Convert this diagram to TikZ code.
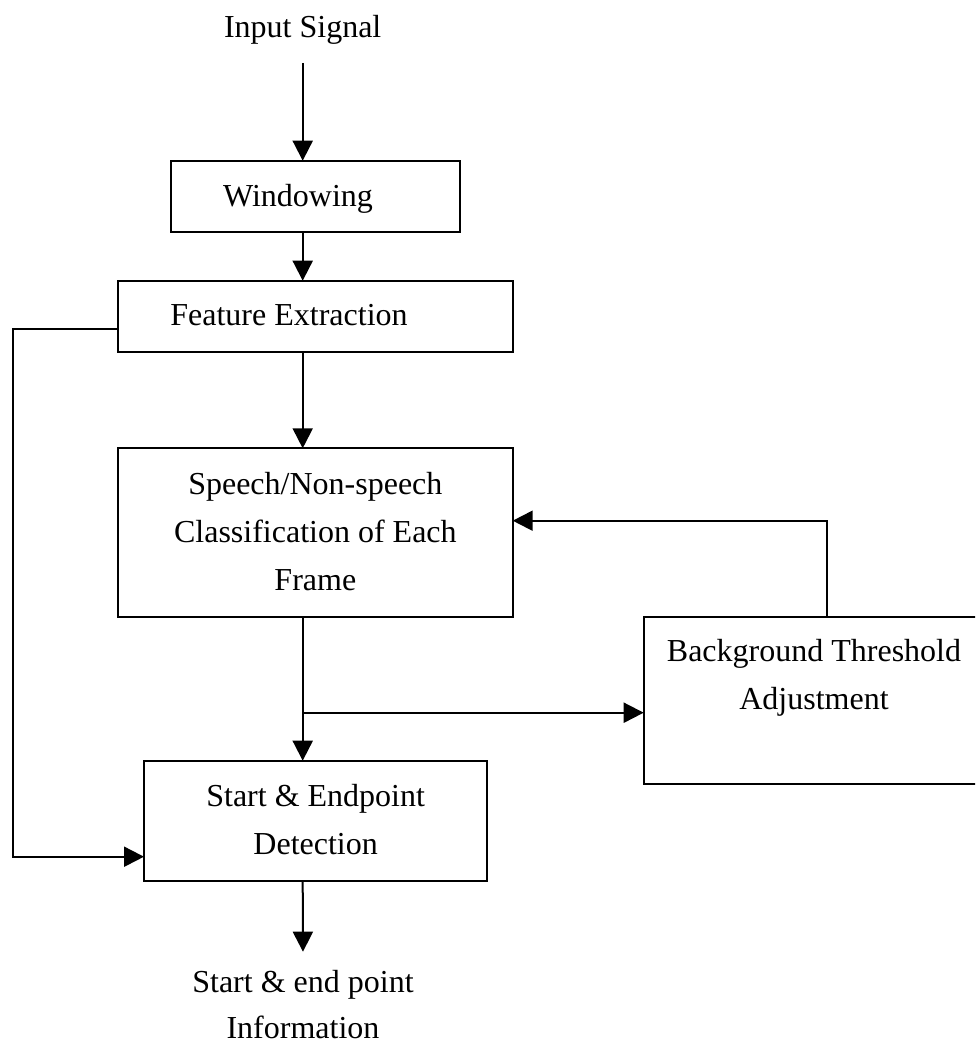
\documentclass[tikz,border=0pt]{standalone}
\usepackage{fontspec}
\setmainfont{Liberation Serif}
\usetikzlibrary{arrows.meta}
\begin{document}
\begin{tikzpicture}[x=1pt,y=-1pt,
  every node/.style={font=\fontsize{32}{48}\selectfont, inner sep=0pt, outer sep=0pt},
  box/.style={draw, line width=2pt},
  conn/.style={line width=2pt, -{Triangle[length=20pt,width=20pt]}}]
\useasboundingbox (0,0) rectangle (975,1048);
\clip (0,0) rectangle (975,1048);

% terminals
\node (in) at (302.7,28.4) {\strut Input Signal};
\node[align=center, anchor=north, font=\fontsize{32}{46}\selectfont]
  (out) at (303,960.4) {\strut Start \& end point\\Information};

% processing blocks (the two upper labels sit left of centre)
\node[box, minimum width=289.3pt, minimum height=71.6pt]
  (win) at (315.35,196.5) {\strut Windowing\hspace*{34.7pt}};
\node[box, minimum width=395.3pt, minimum height=71pt]
  (fe) at (315.65,316.2) {\strut Feature Extraction\hspace*{53.3pt}};
\node[box, minimum width=394.7pt, minimum height=168.4pt, align=center]
  (sp) at (315.35,532.5) {\strut Speech/Non-speech\\\strut Classification of Each\\\strut Frame};
\node[box, minimum width=340.3pt, minimum height=167.6pt] (bg) at (813.85,700.5) {};
\node[align=center] (bgtext) at (814,676.25) {\strut Background Threshold\\\strut Adjustment};
\node[box, minimum width=343.3pt, minimum height=120pt, align=center]
  (st) at (315.65,820.7) {\strut Start \& Endpoint\\\strut Detection};

% routing points
\coordinate (sj) at (302.7,712.7);
\coordinate (fb) at (827.3,520.7);
\coordinate (lp) at (12.7,328.7);
\coordinate (lq) at (12.7,856.7);

% main flow
\draw[conn, shorten <=10.6pt] (in.south) -- (in.south |- win.north);
\draw[conn] (win.south -| in) -- (fe.north -| in);
\draw[conn] (fe.south -| in) -- (sp.north -| in);
\draw[conn] (sp.south -| in) -- (st.north -| in);
\draw[conn, shorten >=8.7pt] (st.south -| in) -- (out.north);

% side branches
\draw[conn] (sj) -- (sj -| bg.west);
\draw[conn] (fb |- bg.north) -- (fb) -- (fb -| sp.east);
\draw[conn] (lp -| fe.west) -- (lp) -- (lq) -- (lq -| st.west);
\end{tikzpicture}
\end{document}
